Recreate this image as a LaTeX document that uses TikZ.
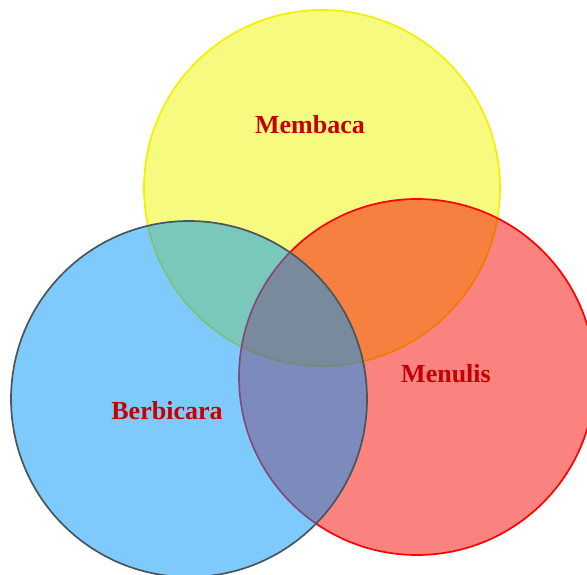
\documentclass[tikz,border=0pt]{standalone}
\usepackage{fontspec}
\setmainfont{Liberation Serif}
\definecolor{setyellow}{RGB}{238,248,0}
\definecolor{yellowline}{RGB}{240,240,0}
\definecolor{setred}{RGB}{245,5,0}
\definecolor{setblue}{RGB}{0,150,250}
\definecolor{blueline}{RGB}{72,86,92}
\definecolor{labelred}{RGB}{196,0,0}
\begin{document}
\begin{tikzpicture}[x=1pt,y=-1pt,
  setcircle/.style={circle, minimum size=356pt, inner sep=0pt, line width=1.7pt, fill opacity=0.5},
  setlabel/.style={anchor=base, text=labelred, font=\fontsize{26}{30}\selectfont\bfseries}]
  \useasboundingbox (0,0) rectangle (587,575);
  % the three sets, yellow first, then red, then blue on top
  \node[setcircle, fill=setyellow, draw=yellowline] (membaca) at (322,188) {};
  \node[setcircle, fill=setred, draw=red] (menulis) at (417,377) {};
  \node[setcircle, fill=setblue, draw=blueline] (berbicara) at (189,399) {};
  % labels
  \node[setlabel] (lm) at (310,134) {Membaca};
  \node[setlabel] (ln) at (446,382) {Menulis};
  \node[setlabel] (lb) at (167,419) {Berbicara};
\end{tikzpicture}
\end{document}
